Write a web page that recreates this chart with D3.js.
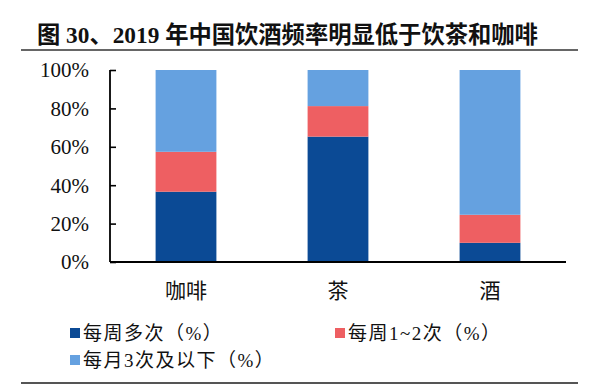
<!DOCTYPE html>
<html>
<head>
<meta charset="utf-8">
<script src="https://cdn.jsdelivr.net/npm/d3@7"></script>
<style>
  body { margin: 0; background: #fff; }
  svg { display: block; }
</style>
</head>
<body>
<div id="chart"></div>
<script>
const categories = ["咖啡", "茶", "酒"];
const seriesNames = ["每周多次（%）", "每周1~2次（%）", "每月3次及以下（%）"];
const seriesKeys = ["multi", "oneTwo", "monthly"];
const multiWeekly = [36.6, 65.3, 10.0];
const onceTwiceWeekly = [20.8, 15.9, 14.6];
const monthlyOrLess = [42.6, 18.8, 75.4];
const yTicks = [0, 20, 40, 60, 80, 100];
const colors = ["#0b4a95", "#ee5f62", "#65a1e0"];
const titleText = "图 30、2019 年中国饮酒频率明显低于饮茶和咖啡";

const W = 607, H = 385;
const serif = "Liberation Serif, DejaVu Serif, Noto Sans CJK SC, serif";

const svg = d3.select("#chart").append("svg").attr("width", W).attr("height", H);

// title
svg.append("text")
  .attr("x", 37).attr("y", 43)
  .attr("font-family", serif)
  .attr("font-weight", "bold")
  .attr("font-size", 23.3)
  .attr("fill", "#111")
  .text(titleText);

svg.append("line").attr("x1", 21).attr("x2", 578).attr("y1", 50).attr("y2", 50)
  .attr("stroke", "#333").attr("stroke-width", 1.5);
svg.append("line").attr("x1", 21).attr("x2", 578).attr("y1", 383).attr("y2", 383)
  .attr("stroke", "#555").attr("stroke-width", 2);

const data = categories.map((c, i) => ({
  cat: c, multi: multiWeekly[i], oneTwo: onceTwiceWeekly[i], monthly: monthlyOrLess[i]
}));
const stacked = d3.stack().keys(seriesKeys)(data);

const x = d3.scaleBand().domain(categories).range([110, 566]).paddingInner(0.6).paddingOuter(0.3);
const y = d3.scaleLinear().domain([0, 100]).range([262, 70]);

svg.append("g").selectAll("g").data(stacked).join("g")
  .attr("fill", (d, i) => colors[i])
  .selectAll("rect").data(d => d).join("rect")
  .attr("x", d => x(d.data.cat))
  .attr("width", x.bandwidth())
  .attr("y", d => y(d[1]))
  .attr("height", d => y(d[0]) - y(d[1]));

// y axis
const yAxis = svg.append("g").attr("transform", "translate(110,0)")
  .call(d3.axisRight(y).tickValues(yTicks).tickSize(6).tickFormat(""));
yAxis.select(".domain").attr("stroke", "#000").attr("stroke-width", 1.8).attr("d", "M0,70V262");
yAxis.selectAll(".tick line").attr("stroke", "#000").attr("stroke-width", 1.6);

svg.append("g").selectAll("text").data(yTicks).join("text")
  .attr("x", 89).attr("y", d => y(d))
  .attr("dy", "0.35em")
  .attr("text-anchor", "end")
  .attr("font-family", serif)
  .attr("font-size", 21)
  .attr("fill", "#111")
  .text(d => d + "%");

// x axis
const xAxis = svg.append("g").attr("transform", "translate(0,262)")
  .call(d3.axisBottom(x).tickSize(0).tickFormat(""));
xAxis.select(".domain").attr("stroke", "#000").attr("stroke-width", 1.8).attr("d", "M110,0H566");

svg.append("g").selectAll("text").data(categories).join("text")
  .attr("x", d => x(d) + x.bandwidth() / 2)
  .attr("y", 291).attr("dy", "0.35em")
  .attr("text-anchor", "middle")
  .attr("font-family", serif)
  .attr("font-size", 21)
  .attr("fill", "#111")
  .text(d => d);

// legend
const legendPos = [[70, 333], [335, 333], [70, 360]];
const lg = svg.append("g").selectAll("g").data(seriesNames).join("g")
  .attr("transform", (d, i) => `translate(${legendPos[i][0]},${legendPos[i][1]})`);
lg.append("rect").attr("x", 0).attr("y", -5).attr("width", 10).attr("height", 10)
  .attr("fill", (d, i) => colors[i]);
lg.append("text").attr("x", 13).attr("y", 0).attr("dy", "0.36em")
  .attr("font-family", serif).attr("font-size", 19).attr("letter-spacing", 1.5)
  .attr("fill", "#111")
  .text(d => d);
</script>
</body>
</html>
